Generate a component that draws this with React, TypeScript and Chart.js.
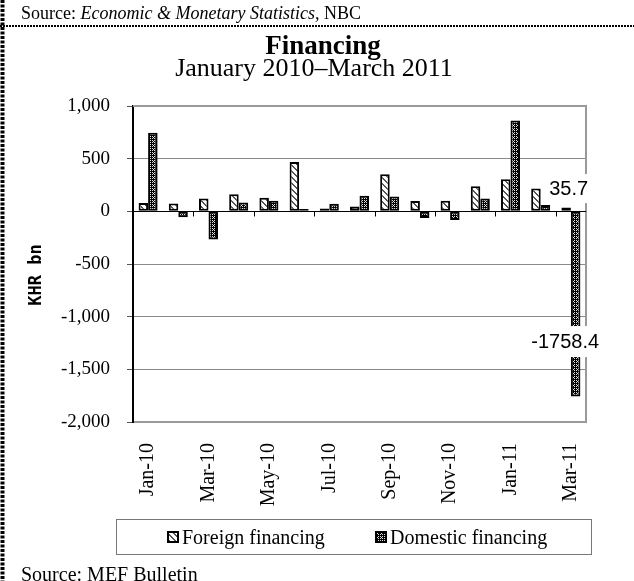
import React, { useEffect, useRef } from 'react';
import { Chart, registerables } from 'chart.js';

Chart.register(...registerables);

const categories = ['Jan-10', 'Feb-10', 'Mar-10', 'Apr-10', 'May-10', 'Jun-10', 'Jul-10', 'Aug-10', 'Sep-10', 'Oct-10', 'Nov-10', 'Dec-10', 'Jan-11', 'Feb-11', 'Mar-11'];
const foreignFinancing = [78, 75, 122, 163, 129, 468, 28, 47, 352, 97, 100, 239, 305, 217, 35.7];
const domesticFinancing = [745, -57, -267, 85, 100, 22, 72, 148, 141, -63, -82, 122, 863, 60, -1758.4];
const yTicks = [1000, 500, 0, -500, -1000, -1500, -2000];
const seriesNames = ['Foreign financing', 'Domestic financing'];
const titleText = 'Financing';
const subtitleText = 'January 2010\u2013March 2011';
const yAxisTitle = 'KHR bn';
const labelledIndex = 14;

const SERIF = '"Liberation Serif", "Times New Roman", serif';
const SANS = '"Liberation Sans", Arial, sans-serif';

function makeForeignPattern(): CanvasPattern | string {
  const c = document.createElement('canvas');
  c.width = 6; c.height = 6;
  const g = c.getContext('2d');
  if (!g) return '#fff';
  g.fillStyle = '#fff';
  g.fillRect(0, 0, 6, 6);
  g.fillStyle = '#555';
  for (let i = 0; i < 6; i++) {
    g.fillRect(i, i, 1, 1);
    g.fillRect((i + 1) % 6, i, 1, 1);
  }
  return g.createPattern(c, 'repeat') || '#fff';
}

function makeDomesticPattern(): CanvasPattern | string {
  const c = document.createElement('canvas');
  c.width = 4; c.height = 4;
  const g = c.getContext('2d');
  if (!g) return '#000';
  g.fillStyle = '#000';
  g.fillRect(0, 0, 4, 4);
  g.fillStyle = '#e0e0e0';
  [[0, 0], [2, 0], [1, 1], [0, 2], [2, 2]].forEach(([px, py]) => g.fillRect(px, py, 1, 1));
  return g.createPattern(c, 'repeat') || '#000';
}

export default function App() {
  const ref = useRef<HTMLCanvasElement | null>(null);

  useEffect(() => {
    if (!ref.current) return;
    const foreignFill = makeForeignPattern();
    const domesticFill = makeDomesticPattern();
    const fills = [foreignFill, domesticFill];

    const decor = {
      id: 'decor',
      beforeDatasetsDraw(chart: any) {
        const { ctx, chartArea: a } = chart;
        ctx.save();
        ctx.strokeStyle = '#9a9a9a';
        ctx.lineWidth = 2;
        ctx.beginPath();
        ctx.moveTo(a.left, a.top);
        ctx.lineTo(a.right, a.top);
        ctx.lineTo(a.right, a.bottom);
        ctx.stroke();
        ctx.restore();
      },
      afterDatasetsDraw(chart: any) {
        const { ctx, chartArea: a, scales } = chart;
        const y = scales.y;
        ctx.save();
        const y0 = Math.round(y.getPixelForValue(0)) + 0.5;
        ctx.strokeStyle = '#000';
        ctx.lineWidth = 1;
        ctx.beginPath();
        ctx.moveTo(a.left, y0);
        ctx.lineTo(a.right, y0);
        const w = (a.right - a.left) / categories.length;
        for (let i = 2; i < categories.length; i += 2) {
          const bx = Math.round(a.left + i * w) + 0.5;
          ctx.moveTo(bx, y0);
          ctx.lineTo(bx, y0 + 5);
        }
        ctx.stroke();

        // data labels
        ctx.font = `20px ${SANS}`;
        ctx.textAlign = 'center';
        ctx.textBaseline = 'middle';
        const drawLabel = (text: string, cx: number, cy: number, h: number) => {
          const tw = ctx.measureText(text).width;
          ctx.fillStyle = '#fff';
          ctx.fillRect(cx - tw / 2 - 4, cy - h / 2, tw + 8, h);
          ctx.fillStyle = '#000';
          ctx.fillText(text, cx, cy + 1);
        };
        const fBar = chart.getDatasetMeta(0).data[labelledIndex];
        const dBar = chart.getDatasetMeta(1).data[labelledIndex];
        if (fBar) drawLabel(String(foreignFinancing[labelledIndex]), fBar.x + 2.5, fBar.y - 19, 29);
        if (dBar) drawLabel(String(domesticFinancing[labelledIndex]), dBar.x - 10.5, dBar.y - 55, 31);
        ctx.restore();
      },
      afterDraw(chart: any) {
        const { ctx } = chart;
        ctx.save();
        // page borders
        ctx.strokeStyle = '#000';
        ctx.setLineDash([2, 1]);
        ctx.lineWidth = 2;
        ctx.beginPath();
        ctx.moveTo(0, 26);
        ctx.lineTo(634, 26);
        ctx.stroke();
        ctx.setLineDash([3, 1.5]);
        ctx.lineWidth = 4;
        ctx.beginPath();
        ctx.moveTo(2.5, 0);
        ctx.lineTo(2.5, 581);
        ctx.stroke();
        ctx.setLineDash([]);

        ctx.fillStyle = '#000';
        ctx.textBaseline = 'alphabetic';
        ctx.textAlign = 'left';
        // top source
        let sx = 21;
        const parts: [string, string][] = [
          ['Source: ', `18px ${SERIF}`],
          ['Economic & Monetary Statistics,', `italic 18px ${SERIF}`],
          [' NBC', `18px ${SERIF}`],
        ];
        parts.forEach(([t, f]) => {
          ctx.font = f;
          ctx.fillText(t, sx, 19);
          sx += ctx.measureText(t).width;
        });

        // titles
        ctx.textAlign = 'center';
        ctx.font = `bold 27px ${SERIF}`;
        ctx.fillText(titleText, 323, 54);
        ctx.font = `26px ${SERIF}`;
        ctx.fillText(subtitleText, 314, 76);

        // y axis title
        ctx.save();
        ctx.translate(37, 275);
        ctx.rotate(-Math.PI / 2);
        ctx.font = `bold 17px "DejaVu Sans Mono", monospace`;
        ctx.textBaseline = 'middle';
        ctx.fillText(yAxisTitle, 0, 0);
        ctx.restore();

        // legend
        ctx.strokeStyle = '#777';
        ctx.lineWidth = 1;
        ctx.strokeRect(116.5, 519.5, 475, 35);
        ctx.textAlign = 'left';
        ctx.font = `20px ${SERIF}`;
        const iconX = [167, 375];
        seriesNames.forEach((name, i) => {
          const ix = iconX[i];
          ctx.fillStyle = fills[i] as any;
          ctx.fillRect(ix, 531, 12, 12);
          ctx.strokeStyle = '#000';
          ctx.lineWidth = 2;
          ctx.strokeRect(ix + 1, 532, 10, 10);
          ctx.fillStyle = '#000';
          ctx.fillText(name, ix + 15, 544);
        });

        // bottom source
        ctx.font = `20px ${SERIF}`;
        ctx.fillText('Source: MEF Bulletin', 21, 581);
        ctx.restore();
      },
    };

    const chart = new Chart(ref.current, {
      type: 'bar',
      data: {
        labels: categories,
        datasets: [
          {
            label: seriesNames[0],
            data: foreignFinancing,
            backgroundColor: foreignFill as any,
            borderColor: '#000',
            borderWidth: 2,
            borderSkipped: false,
          },
          {
            label: seriesNames[1],
            data: domesticFinancing,
            backgroundColor: domesticFill as any,
            borderColor: '#000',
            borderWidth: 2,
            borderSkipped: false,
          },
        ],
      },
      options: {
        responsive: false,
        animation: false,
        devicePixelRatio: 1,
        layout: { padding: { top: 106, left: 0, right: 48, bottom: 0 } },
        datasets: { bar: { categoryPercentage: 0.63, barPercentage: 1 } },
        plugins: {
          legend: { display: false },
          title: { display: false },
          tooltip: { enabled: false },
        },
        scales: {
          x: {
            grid: { display: false, drawTicks: false, tickLength: 0 },
            border: { display: true, color: '#9a9a9a', width: 2 },
            ticks: {
              autoSkip: false,
              minRotation: 90,
              maxRotation: 90,
              padding: 21,
              color: '#000',
              font: { family: SERIF, size: 20 },
              callback: (_v: any, i: number) => (i % 2 === 0 ? categories[i] : ''),
            },
            afterFit: (s: any) => { s.height = 159; },
          },
          y: {
            min: -2000,
            max: 1000,
            afterBuildTicks: (s: any) => { s.ticks = yTicks.map((v) => ({ value: v })); },
            ticks: {
              color: '#000',
              padding: 17,
              font: { family: SERIF, size: 19 },
              callback: (v: any) => Number(v).toLocaleString('en-US'),
            },
            grid: { color: '#8a8a8a', lineWidth: 1, tickLength: 6, tickColor: '#555' },
            border: { color: '#000', width: 2 },
            afterFit: (s: any) => { s.width = 133; },
          },
        },
      },
      plugins: [decor],
    });
    return () => chart.destroy();
  }, []);

  return (
    <div style={{ position: 'fixed', left: 0, top: 0, width: 634, height: 581, background: '#fff' }}>
      <canvas ref={ref} width={634} height={581} style={{ display: 'block' }} />
    </div>
  );
}
